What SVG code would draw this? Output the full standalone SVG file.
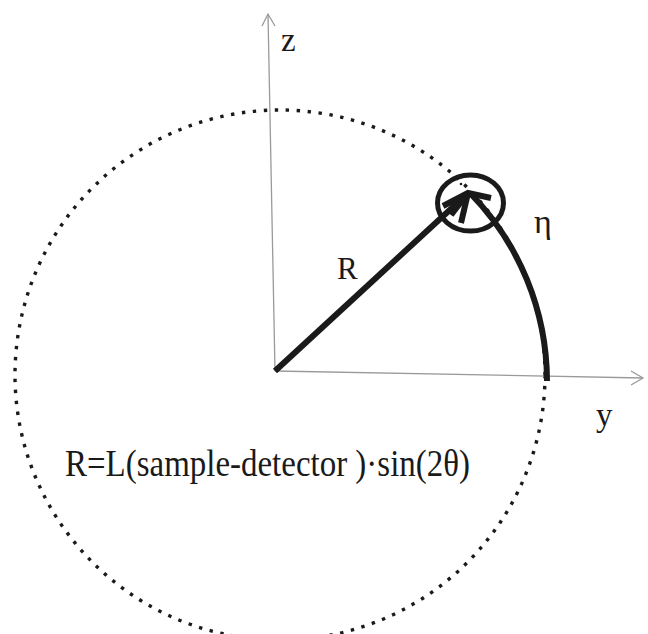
<svg xmlns="http://www.w3.org/2000/svg" width="648" height="634" viewBox="0 0 648 634">
<style>
.axis{fill:none;stroke:#9a9a9a;stroke-width:1.3}
.thick{fill:none;stroke:#1a1a1a;stroke-width:6;stroke-linecap:butt}
.lbl{font-family:"Liberation Serif","DejaVu Serif",serif;fill:#1a1a1a}
</style>
<rect width="648" height="634" fill="#ffffff"/>
<g id="circle-dotted">
<circle cx="280" cy="375" r="265" fill="none" stroke="#1a1a1a" stroke-width="3.4" stroke-dasharray="3.4 7.6"/>
</g>
<g id="axes">
<line class="axis" x1="275" y1="371" x2="268" y2="14"/>
<polyline class="axis" points="262,26 268,14 275,26"/>
<line class="axis" x1="275" y1="371" x2="643" y2="378"/>
<polyline class="axis" points="631,371 643,378 631,385"/>
</g>
<g id="connectors">
<line class="thick" x1="275" y1="371" x2="466" y2="195"/>
<path class="thick" d="M 470 193 A 270 270 0 0 1 547 381"/>
</g>
<g id="detector">
<ellipse cx="470.5" cy="203" rx="33" ry="28" fill="none" stroke="#1a1a1a" stroke-width="5"/>
<polyline class="thick" points="443,206 468,193 491,198" stroke-width="7"/>
<line class="thick" x1="468" y1="193" x2="461" y2="223" stroke-width="7"/>
<line class="thick" x1="468" y1="193" x2="451" y2="215" stroke-width="7"/>
<circle cx="461" cy="184" r="1.3" fill="#1a1a1a"/>
</g>
<g id="labels">
<text class="lbl" x="281" y="51" font-size="33">z</text>
<text class="lbl" x="337" y="279" font-size="31">R</text>
<text class="lbl" x="534" y="233" font-size="34">η</text>
<text class="lbl" x="596" y="426" font-size="33">y</text>
<text class="lbl" x="65" y="476" font-size="37" textLength="405" lengthAdjust="spacingAndGlyphs">R=L(sample-detector )·sin(2θ)</text>
</g>
</svg>
